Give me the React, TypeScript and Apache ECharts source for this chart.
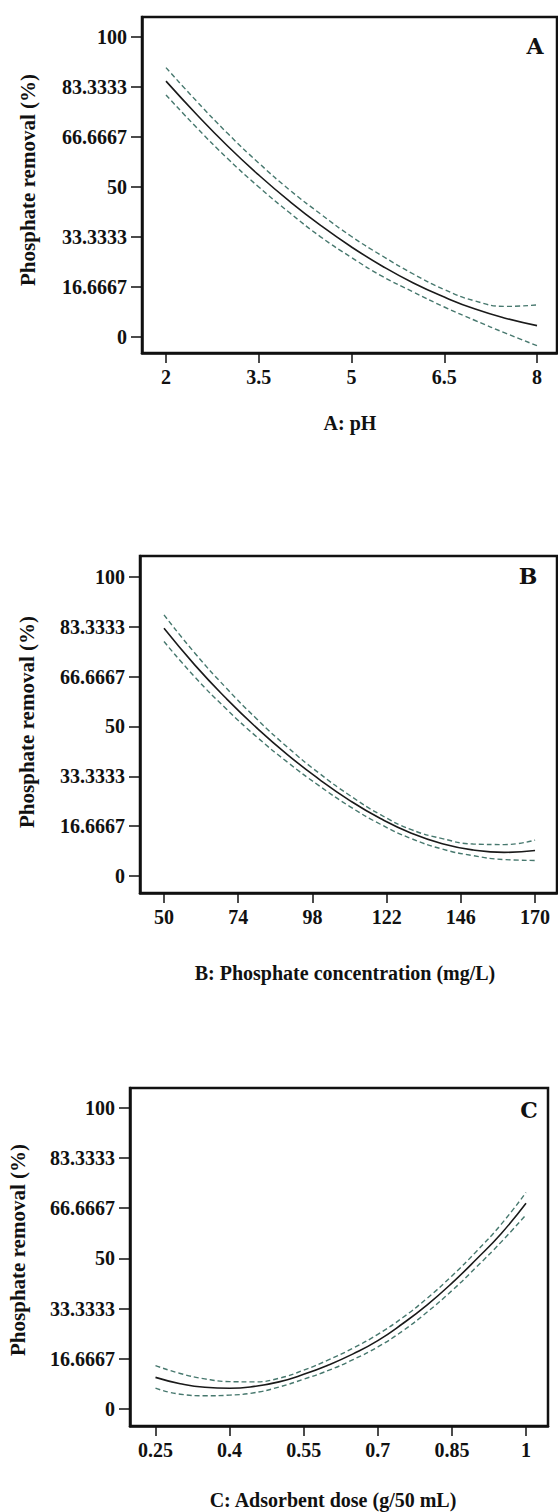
import React, { useEffect, useRef } from "react";
import * as echarts from "echarts";

// ---- Data ----
const yTickValues = [0, 16.6667, 33.3333, 50, 66.6667, 83.3333, 100];
const yTickLabels = ["0", "16.6667", "33.3333", "50", "66.6667", "83.3333", "100"];

// Panel A: pH
const aTicks = [2, 3.5, 5, 6.5, 8];
const aX = [2, 2.5, 3, 3.5, 4, 4.5, 5, 5.5, 6, 6.5, 7, 7.5, 8];
const aMid = [85.3, 74.1, 63.6, 54, 45.2, 37.2, 30, 23.6, 18, 13.3, 9.3, 6.2, 3.8];
const aHigh = [89.8, 78.5, 67.8, 58, 49, 41, 33.5, 27, 21, 15.8, 12, 10.2, 10.7];
const aLow = [80.7, 69.7, 59.4, 50, 41.4, 33.4, 26.5, 20.2, 15, 10, 5.5, 1.2, -2.9];

// Panel B: phosphate concentration (mg/L)
const bTicks = [50, 74, 98, 122, 146, 170];
const bX = [50, 60, 70, 80, 90, 100, 110, 120, 130, 140, 150, 160, 170];
const bMid = [82.8, 70.5, 59.5, 49.5, 40.5, 32.5, 25.3, 19.2, 14.3, 10.8, 8.7, 7.9, 8.5];
const bHigh = [87.3, 74.5, 63, 52.5, 43, 34.5, 27, 20.5, 15.5, 12.5, 10.7, 10.5, 12];
const bLow = [78.4, 66.5, 56, 46.5, 38, 30.3, 23.3, 17.3, 12.5, 9, 6.8, 5.5, 5.2];

// Panel C: adsorbent dose (g/50 mL)
const cTicks = [0.25, 0.4, 0.55, 0.7, 0.85, 1];
const cX = [0.25, 0.3, 0.35, 0.4, 0.45, 0.5, 0.55, 0.6, 0.65, 0.7, 0.75, 0.8, 0.85, 0.9, 0.95, 1];
const cMid = [10.5, 8.4, 7.2, 6.9, 7.5, 9.0, 11.5, 14.6, 18.3, 22.7, 28.3, 34.6, 41.8, 49.8, 58.3, 68.3];
const cHigh = [14.4, 11.8, 10, 9.1, 9, 10.2, 12.9, 16.3, 20.2, 24.8, 30.3, 36.8, 44.2, 52.4, 61.4, 71.9];
const cLow = [6.9, 4.9, 4.4, 4.6, 5.4, 7.3, 9.9, 12.8, 16.4, 20.6, 25.9, 32.2, 39.3, 47.2, 55.5, 64.5];

const panelLetters = ["A", "B", "C"];
const xTitles = ["A: pH", "B: Phosphate concentration (mg/L)", "C: Adsorbent dose (g/50 mL)"];
const yTitle = "Phosphate removal (%)";

const FONT = '"Liberation Serif", "Times New Roman", Times, serif';
const DASH_COLOR = "#47786e";

function yLabel(v: number): string {
  let best = 0;
  for (let i = 0; i < yTickValues.length; i++) {
    if (Math.abs(yTickValues[i] - v) < Math.abs(yTickValues[best] - v)) best = i;
  }
  return yTickLabels[best];
}

export default function App() {
  const ref = useRef<HTMLDivElement>(null);
  useEffect(() => {
    if (!ref.current) return;
    const chart = echarts.init(ref.current, null, { renderer: "svg" });

    const grids = [
      { left: 142, top: 17, width: 415, height: 336 },
      { left: 140, top: 556, width: 417, height: 337 },
      { left: 130, top: 1088, width: 418, height: 338 },
    ];
    const xRanges = [
      [1.612, 8.323],
      [42.24, 177.1],
      [0.1984, 1.0445],
    ];
    const yRanges = [
      [-5.33, 106.67],
      [-5.69, 107.0],
      [-5.65, 106.6],
    ];
    const xTickSets = [aTicks, bTicks, cTicks];
    const sets = [
      [aX, aMid, aHigh, aLow],
      [bX, bMid, bHigh, bLow],
      [cX, cMid, cHigh, cLow],
    ];

    const grid = grids.map((g) => ({
      ...g,
      show: true,
      borderColor: "#111",
      borderWidth: 2.5,
      backgroundColor: "#fff",
    }));

    const labelStyle = {
      color: "#111",
      fontFamily: FONT,
      fontWeight: "bold" as const,
      fontSize: 20,
    };

    const xAxis = grids.map((_, i) => ({
      type: "value" as const,
      gridIndex: i,
      min: xRanges[i][0],
      max: xRanges[i][1],
      splitLine: { show: false },
      axisLine: { show: true, onZero: false, lineStyle: { color: "#111", width: 2.5 } },
      axisTick: {
        show: true,
        length: 10,
        inside: false,
        customValues: xTickSets[i],
        lineStyle: { color: "#111", width: 1.5 },
      },
      axisLabel: {
        ...labelStyle,
        margin: 14,
        customValues: xTickSets[i],
        formatter: (v: number) => String(v),
      },
    }));

    const yAxis = grids.map((_, i) => ({
      type: "value" as const,
      gridIndex: i,
      min: yRanges[i][0],
      max: yRanges[i][1],
      splitLine: { show: false },
      axisLine: { show: true, onZero: false, lineStyle: { color: "#111", width: 2.5 } },
      axisTick: {
        show: true,
        length: 11,
        inside: false,
        customValues: yTickValues,
        lineStyle: { color: "#111", width: 1.5 },
      },
      axisLabel: {
        ...labelStyle,
        margin: 15,
        customValues: yTickValues,
        formatter: (v: number) => yLabel(v),
      },
    }));

    const series: any[] = [];
    sets.forEach((s, i) => {
      const xs = s[0];
      const mk = (ys: number[]) => xs.map((x, k) => [x, ys[k]]);
      series.push({
        type: "line",
        xAxisIndex: i,
        yAxisIndex: i,
        data: mk(s[1]),
        smooth: true,
        showSymbol: false,
        lineStyle: { color: "#1a1a1a", width: 1.6 },
      });
      series.push({
        type: "line",
        xAxisIndex: i,
        yAxisIndex: i,
        data: mk(s[2]),
        smooth: true,
        showSymbol: false,
        lineStyle: { color: DASH_COLOR, width: 1.4, type: [5, 3] },
      });
      series.push({
        type: "line",
        xAxisIndex: i,
        yAxisIndex: i,
        data: mk(s[3]),
        smooth: true,
        showSymbol: false,
        lineStyle: { color: DASH_COLOR, width: 1.4, type: [5, 3] },
      });
    });

    const letterPos = [
      [535, 46],
      [528, 576],
      [529, 1110],
    ];
    const xTitlePos = [
      [350, 423],
      [345, 973],
      [333, 1500],
    ];
    const yTitlePos = [
      [28, 180],
      [27, 722],
      [18, 1250],
    ];

    const graphic: any[] = [];
    for (let i = 0; i < 3; i++) {
      graphic.push({
        type: "text",
        x: letterPos[i][0],
        y: letterPos[i][1],
        style: {
          text: panelLetters[i],
          fill: "#111",
          font: "bold 22px 'DejaVu Serif', serif",
          align: "center",
          verticalAlign: "middle",
        },
      });
      graphic.push({
        type: "text",
        x: xTitlePos[i][0],
        y: xTitlePos[i][1],
        style: {
          text: xTitles[i],
          fill: "#111",
          font: `bold 20px ${FONT}`,
          align: "center",
          verticalAlign: "middle",
        },
      });
      graphic.push({
        type: "text",
        x: yTitlePos[i][0],
        y: yTitlePos[i][1],
        rotation: Math.PI / 2,
        style: {
          text: yTitle,
          fill: "#111",
          font: `bold 21px ${FONT}`,
          align: "center",
          verticalAlign: "middle",
        },
      });
    }

    chart.setOption({
      animation: false,
      backgroundColor: "#fff",
      grid,
      xAxis,
      yAxis,
      series,
      graphic,
    });
    return () => chart.dispose();
  }, []);
  return (
    <div
      ref={ref}
      style={{ position: "absolute", left: 0, top: 0, width: 558, height: 1512 }}
    />
  );
}
